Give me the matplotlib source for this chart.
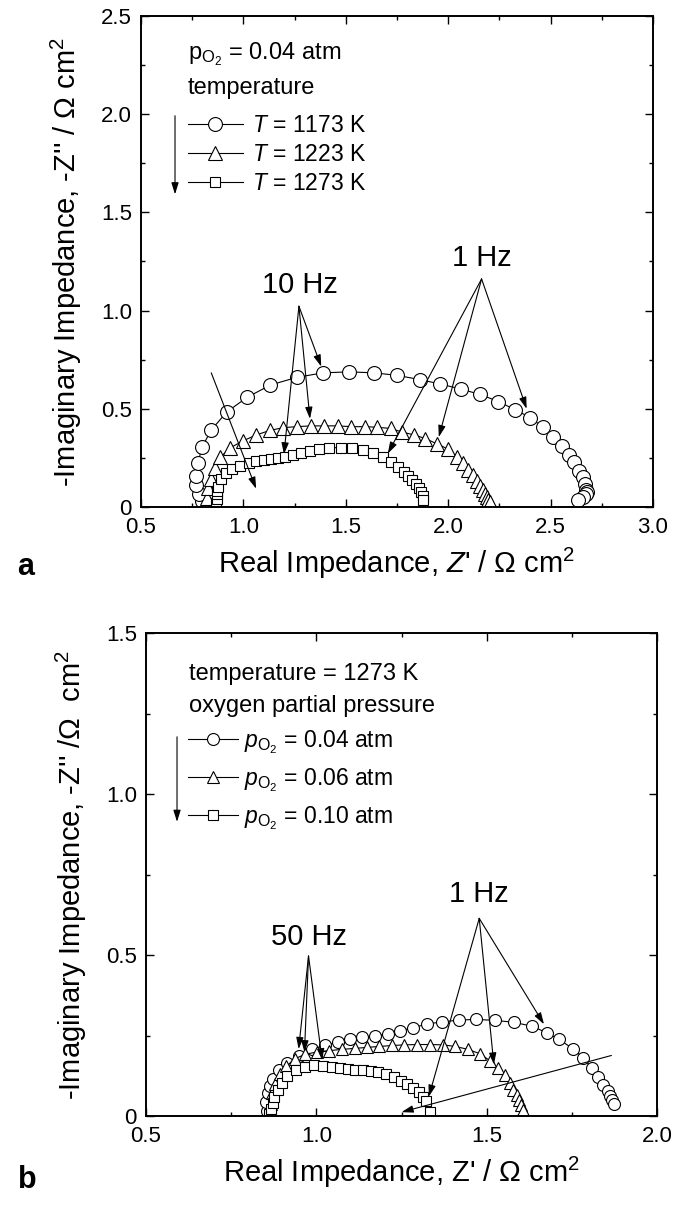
'''
Nyquist plots of cathode impedance: (a) temperature series, (b) oxygen partial pressure series
'''
import matplotlib
matplotlib.use("Agg")
import matplotlib.pyplot as plt
from matplotlib.ticker import MultipleLocator, FuncFormatter

plt.rcParams['font.family'] = ['Liberation Sans', 'DejaVu Sans']
plt.rcParams['mathtext.fontset'] = 'custom'
plt.rcParams['mathtext.rm'] = 'Liberation Sans'
plt.rcParams['mathtext.it'] = 'Liberation Sans:italic'
plt.rcParams['mathtext.bf'] = 'Liberation Sans:bold'

# ---- panel a : pO2 = 0.04 atm, varying temperature ----
t1173_re = [0.800, 0.782, 0.770, 0.767, 0.778, 0.798, 0.843, 0.919, 1.019, 1.132, 1.260, 1.389,
            1.515, 1.639, 1.751, 1.860, 1.962, 2.063, 2.156, 2.245, 2.327, 2.401, 2.461, 2.514,
            2.558, 2.591, 2.616, 2.638, 2.656, 2.667, 2.675, 2.678, 2.675, 2.658, 2.636]
t1173_im = [0.030, 0.068, 0.110, 0.158, 0.224, 0.305, 0.392, 0.484, 0.559, 0.621, 0.660, 0.683,
            0.688, 0.683, 0.670, 0.649, 0.626, 0.600, 0.573, 0.537, 0.495, 0.455, 0.407, 0.358,
            0.312, 0.265, 0.227, 0.185, 0.152, 0.118, 0.089, 0.075, 0.066, 0.051, 0.036]

t1223_re = [0.815, 0.820, 0.829, 0.844, 0.862, 0.887, 0.935, 0.999, 1.063, 1.130, 1.194, 1.262,
            1.328, 1.395, 1.461, 1.527, 1.593, 1.651, 1.719, 1.776, 1.834, 1.889, 1.944, 1.999,
            2.041, 2.072, 2.099, 2.121, 2.141, 2.156, 2.168, 2.178, 2.187, 2.196, 2.205]
t1223_im = [0.022, 0.048, 0.095, 0.143, 0.196, 0.253, 0.301, 0.337, 0.367, 0.390, 0.404, 0.409,
            0.413, 0.413, 0.413, 0.409, 0.409, 0.406, 0.400, 0.381, 0.367, 0.348, 0.322, 0.295,
            0.257, 0.225, 0.190, 0.162, 0.133, 0.109, 0.086, 0.067, 0.051, 0.036, 0.023]

t1273_re = [0.868, 0.870, 0.870, 0.872, 0.875, 0.892, 0.917, 0.945, 0.983, 1.025, 1.062, 1.100,
            1.133, 1.170, 1.205, 1.242, 1.283, 1.325, 1.370, 1.420, 1.475, 1.528, 1.583, 1.635,
            1.683, 1.722, 1.755, 1.783, 1.805, 1.825, 1.842, 1.855, 1.867, 1.875, 1.875]
t1273_im = [0.018, 0.042, 0.066, 0.083, 0.100, 0.141, 0.171, 0.191, 0.208, 0.224, 0.233, 0.238,
            0.244, 0.251, 0.257, 0.266, 0.277, 0.287, 0.296, 0.302, 0.302, 0.299, 0.291, 0.274,
            0.254, 0.229, 0.203, 0.179, 0.158, 0.136, 0.116, 0.096, 0.078, 0.058, 0.037]

# ---- panel b : T = 1273 K, varying oxygen partial pressure ----
p004_re = [0.855, 0.853, 0.857, 0.863, 0.874, 0.891, 0.915, 0.948, 0.987, 1.025, 1.064, 1.100,
           1.135, 1.171, 1.210, 1.245, 1.284, 1.324, 1.368, 1.418, 1.470, 1.525, 1.580, 1.632,
           1.676, 1.712, 1.753, 1.784, 1.808, 1.827, 1.842, 1.855, 1.863, 1.869, 1.874]
p004_im = [0.015, 0.044, 0.070, 0.093, 0.116, 0.143, 0.166, 0.186, 0.207, 0.219, 0.230, 0.240,
           0.244, 0.248, 0.256, 0.265, 0.274, 0.286, 0.292, 0.298, 0.300, 0.297, 0.291, 0.279,
           0.259, 0.238, 0.209, 0.180, 0.149, 0.120, 0.097, 0.077, 0.062, 0.049, 0.037]

p006_re = [0.866, 0.867, 0.871, 0.880, 0.893, 0.912, 0.937, 0.968, 1.003, 1.038, 1.075, 1.113,
           1.148, 1.185, 1.223, 1.258, 1.295, 1.333, 1.371, 1.408, 1.445, 1.481, 1.509, 1.533,
           1.553, 1.567, 1.578, 1.588, 1.595, 1.602, 1.606]
p006_im = [0.012, 0.038, 0.070, 0.100, 0.130, 0.155, 0.178, 0.192, 0.199, 0.203, 0.207, 0.210,
           0.213, 0.216, 0.219, 0.221, 0.222, 0.222, 0.221, 0.216, 0.207, 0.193, 0.172, 0.149,
           0.126, 0.102, 0.081, 0.065, 0.049, 0.033, 0.019]

p010_re = [0.862, 0.867, 0.872, 0.877, 0.887, 0.899, 0.914, 0.939, 0.967, 0.994, 1.020, 1.045,
           1.069, 1.092, 1.114, 1.137, 1.159, 1.182, 1.204, 1.227, 1.247, 1.267, 1.284, 1.300,
           1.312, 1.322, 1.333]
p010_im = [0.007, 0.023, 0.041, 0.060, 0.081, 0.103, 0.124, 0.142, 0.153, 0.158, 0.156, 0.152,
           0.148, 0.145, 0.143, 0.142, 0.140, 0.137, 0.129, 0.121, 0.110, 0.099, 0.087, 0.073,
           0.060, 0.047, 0.013]

labels_a = [r"$T$ = 1173 K", r"$T$ = 1223 K", r"$T$ = 1273 K"]
labels_b = [r"$p_{\mathrm{O_2}}$ = 0.04 atm", r"$p_{\mathrm{O_2}}$ = 0.06 atm",
            r"$p_{\mathrm{O_2}}$ = 0.10 atm"]


def tick_fmt(v, pos):
    """0 for zero, one decimal otherwise"""
    if abs(v) < 1e-9:
        return "0"
    return "%.1f" % v


def style_axes(ax):
    ax.xaxis.set_major_locator(MultipleLocator(0.5))
    ax.xaxis.set_minor_locator(MultipleLocator(0.25))
    ax.yaxis.set_major_locator(MultipleLocator(0.5))
    ax.yaxis.set_minor_locator(MultipleLocator(0.25))
    ax.xaxis.set_major_formatter(FuncFormatter(tick_fmt))
    ax.yaxis.set_major_formatter(FuncFormatter(tick_fmt))
    ax.tick_params(which='both', direction='in', top=True, right=True, labelsize=16)
    ax.tick_params(which='major', length=5.5, width=1.0)
    ax.tick_params(which='minor', length=3, width=1.0)
    ax.tick_params(axis='x', which='major', pad=7)
    ax.tick_params(axis='y', which='major', pad=6.5)
    for sp in ax.spines.values():
        sp.set_linewidth(1.4)


def arrow(ax, start, end):
    ax.annotate("", xy=end, xytext=start,
                arrowprops=dict(arrowstyle='-|>,head_length=0.7,head_width=0.22',
                                color='k', lw=0.8, shrinkA=0, shrinkB=0, mutation_scale=10))


fig = plt.figure(figsize=(6.76, 12.10), dpi=100)

# ---------------- panel a ----------------
ax1 = fig.add_axes([0.2086, 0.581, 0.7574, 0.4058])
mk = dict(color='k', lw=0.8, mfc='white', mec='k', mew=0.8)
l1, = ax1.plot(t1173_re, t1173_im, marker='o', ms=10, **mk)
l2, = ax1.plot(t1223_re, t1223_im, marker='^', ms=9.5, **mk)
l3, = ax1.plot(t1273_re, t1273_im, marker='s', ms=7, **mk)
ax1.set_xlim(0.5, 3.0)
ax1.set_ylim(0, 2.5)
style_axes(ax1)
ax1.set_xlabel(r"Real Impedance, $Z$' / Ω cm$^{2}$", fontsize=21, labelpad=6)
ax1.set_ylabel(r"-Imaginary Impedance, -Z'' / Ω cm$^{2}$", fontsize=21, labelpad=12)

ax1.text(0.728, 2.305, r"$\mathrm{p_{O_2}}$ = 0.04 atm", fontsize=17, va='center')
ax1.text(0.728, 2.135, "temperature", fontsize=17, va='center')
ax1.legend([l1, l2, l3], labels_a, loc='upper left', bbox_to_anchor=(0.728, 2.0),
           bbox_transform=ax1.transData, frameon=False, borderpad=0, borderaxespad=0,
           handlelength=2.4, handletextpad=0.4, labelspacing=0.25, numpoints=1,
           fontsize=16.5)
arrow(ax1, (0.666, 1.992), (0.666, 1.592))

ax1.text(1.277, 1.129, "10 Hz", fontsize=21, ha='center', va='center')
for tip in [(1.380, 0.715), (1.325, 0.449), (1.198, 0.268)]:
    arrow(ax1, (1.271, 1.022), tip)
ax1.text(2.163, 1.266, "1 Hz", fontsize=21, ha='center', va='center')
for tip in [(2.383, 0.500), (1.954, 0.356), (1.705, 0.272)]:
    arrow(ax1, (2.163, 1.161), tip)
arrow(ax1, (0.843, 0.683), (1.062, 0.093))

fig.text(0.026, 0.531, "a", fontsize=22, fontweight='bold', ha='left', va='center')

# ---------------- panel b ----------------
ax2 = fig.add_axes([0.216, 0.0777, 0.756, 0.399])
m1, = ax2.plot(p004_re, p004_im, marker='o', ms=8.6, **mk)
m2, = ax2.plot(p006_re, p006_im, marker='^', ms=8.6, **mk)
m3, = ax2.plot(p010_re, p010_im, marker='s', ms=6.5, **mk)
ax2.set_xlim(0.5, 2.0)
ax2.set_ylim(0, 1.5)
style_axes(ax2)
ax2.set_xlabel(r"Real Impedance, Z' / Ω cm$^{2}$", fontsize=21, labelpad=6)
ax2.set_ylabel(r"-Imaginary Impedance, -Z'' /Ω  cm$^{2}$", fontsize=21, labelpad=12)

ax2.text(0.626, 1.372, "temperature = 1273 K", fontsize=17, va='center')
ax2.text(0.626, 1.275, "oxygen partial pressure", fontsize=17, va='center')
ax2.legend([m1, m2, m3], labels_b, loc='upper left', bbox_to_anchor=(0.622, 1.205),
           bbox_transform=ax2.transData, frameon=False, borderpad=0, borderaxespad=0,
           handlelength=2.2, handletextpad=0.25, labelspacing=0.45, numpoints=1,
           fontsize=16.5)
arrow(ax2, (0.591, 1.178), (0.591, 0.914))

ax2.text(0.978, 0.555, "50 Hz", fontsize=21, ha='center', va='center')
for tip in [(0.948, 0.208), (0.965, 0.198), (1.017, 0.173)]:
    arrow(ax2, (0.977, 0.497), tip)
ax2.text(1.478, 0.690, "1 Hz", fontsize=21, ha='center', va='center')
for tip in [(1.668, 0.285), (1.521, 0.160), (1.330, 0.060)]:
    arrow(ax2, (1.478, 0.614), tip)
arrow(ax2, (1.866, 0.188), (1.250, 0.012))

fig.text(0.026, 0.025, "b", fontsize=22, fontweight='bold', ha='left', va='center')

fig.savefig("out.png", dpi=100)
